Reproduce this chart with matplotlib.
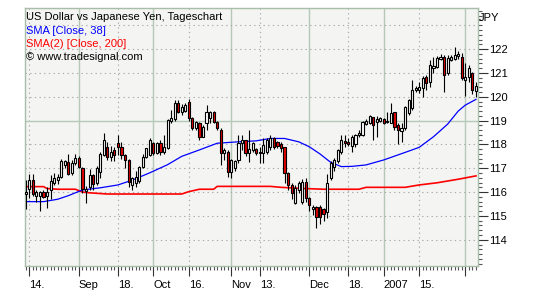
import numpy as np
import pandas as pd
import matplotlib
matplotlib.use('Agg')
import matplotlib.pyplot as plt
from matplotlib.ticker import FixedLocator, MultipleLocator

plt.rcParams['font.family'] = ['Liberation Sans', 'DejaVu Sans']

# Handelstage (Forex: alle Werktage)
dates = pd.bdate_range('2006-08-11', '2007-02-06')

# Kerzen USD/JPY
opens = [115.9, 116.15, 116.5, 115.85, 115.85, 116.0, 115.85, 116.1, 116.4, 116.5,
         116.65, 117.15, 117.25, 116.8, 117.2, 117.45, 117.0, 116.05, 116.2, 116.7,
         116.4, 116.85, 117.55, 117.9, 117.48, 117.75, 118.04, 117.9, 117.55, 117.34,
         116.3, 116.4, 116.45, 117.06, 117.48, 117.55, 118.04, 117.62, 118.04, 117.69,
         117.83, 119.0, 119.05, 119.75, 119.35, 119.4, 119.8, 119.1, 118.7, 118.9,
         118.32, 118.9, 119.1, 119.37, 118.95, 118.6, 117.62, 117.69, 116.85, 117.0,
         117.34, 118.04, 118.18, 117.62, 117.76, 117.8, 117.62, 117.62, 117.7, 117.9,
         118.25, 118.1, 118.0, 117.9, 116.79, 116.3, 115.55, 116.1, 115.6, 116.44,
         115.75, 115.28, 115.37, 115.37, 115.3, 115.16, 116.6, 117.05, 117.3, 117.7,
         118.15, 118.1, 117.95, 118.0, 118.4, 118.4, 118.85, 118.9, 119.15, 118.95,
         119.0, 119.05, 118.95, 118.9, 119.37, 118.8, 118.55, 118.7, 119.3, 119.51,
         120.28, 120.28, 120.35, 120.84, 120.63, 121.2, 121.26, 121.6, 121.68, 121.0,
         121.55, 121.6, 121.7, 121.68, 120.72, 120.82, 121.0, 120.25]
highs = [116.5, 116.75, 116.75, 116.1, 116.05, 116.1, 116.2, 116.7, 116.8, 116.75,
         117.4, 117.35, 117.6, 117.35, 117.6, 117.5, 117.05, 116.25, 116.95, 116.75,
         117.1, 117.7, 118.5, 118.1, 117.95, 117.9, 118.4, 118.1, 117.6, 117.4,
         116.65, 116.9, 117.1, 117.6, 117.85, 118.25, 118.1, 118.1, 118.2, 118.4,
         119.05, 119.44, 119.85, 119.85, 119.7, 119.75, 119.9, 119.15, 119.0, 118.95,
         118.8, 119.65, 119.4, 119.4, 119.0, 118.67, 117.83, 117.76, 117.4, 117.35,
         118.39, 118.39, 118.2, 118.6, 118.1, 117.85, 117.9, 118.25, 118.25, 118.39,
         118.3, 118.15, 118.1, 117.9, 116.86, 116.4, 116.3, 116.45, 116.55, 116.6,
         115.8, 115.45, 115.4, 115.45, 115.35, 116.75, 117.3, 117.45, 117.8, 118.4,
         118.4, 118.25, 118.4, 118.45, 118.6, 119.0, 119.05, 119.25, 119.15, 119.2,
         119.15, 119.1, 119.35, 119.75, 119.37, 118.88, 118.88, 119.6, 119.9, 120.7,
         120.45, 120.63, 120.85, 120.9, 121.54, 121.65, 121.7, 121.8, 121.75, 121.75,
         121.75, 122.1, 121.9, 121.85, 121.4, 121.35, 121.05, 120.6]
lows = [115.3, 115.75, 115.85, 115.6, 115.2, 115.75, 115.35, 115.7, 116.3, 116.35,
        116.6, 117.0, 116.7, 116.7, 117.15, 117.0, 115.95, 115.55, 116.1, 116.1,
        116.3, 116.6, 117.5, 117.35, 117.3, 117.3, 117.55, 117.4, 117.0, 116.2,
        116.1, 116.2, 116.4, 117.0, 117.45, 117.5, 117.55, 117.6, 117.55, 117.6,
        117.8, 118.9, 119.0, 119.3, 119.25, 119.35, 119.0, 118.6, 118.6, 118.2,
        118.3, 118.6, 118.9, 118.9, 118.6, 117.13, 117.34, 116.64, 116.6, 116.9,
        117.2, 117.76, 117.5, 117.25, 117.7, 117.55, 117.2, 117.2, 117.6, 117.76,
        117.8, 117.85, 117.7, 116.37, 116.1, 115.7, 115.5, 115.95, 115.5, 115.6,
        115.2, 115.05, 114.5, 114.65, 114.8, 114.9, 116.5, 116.9, 117.2, 117.6,
        117.9, 117.95, 117.7, 117.9, 118.3, 118.35, 118.8, 118.85, 118.2, 118.3,
        118.95, 118.85, 118.9, 118.9, 118.6, 118.0, 118.1, 118.6, 119.25, 119.44,
        120.2, 120.14, 120.0, 120.3, 120.4, 121.0, 121.2, 121.55, 120.2, 120.9,
        121.5, 121.55, 121.6, 120.7, 120.05, 120.6, 120.1, 120.0]
closes = [116.0, 116.5, 115.9, 116.0, 116.0, 115.8, 116.0, 116.45, 116.6, 116.65,
          117.3, 117.3, 116.75, 117.2, 117.45, 117.05, 116.15, 116.15, 116.7, 116.35,
          117.0, 117.6, 118.18, 117.48, 117.69, 117.55, 117.9, 117.55, 117.34, 116.43,
          116.6, 116.65, 117.06, 117.48, 117.83, 118.18, 117.62, 118.04, 117.69, 117.9,
          119.02, 119.09, 119.75, 119.35, 119.55, 119.65, 119.1, 118.7, 118.95, 118.32,
          118.74, 119.37, 119.37, 118.95, 118.67, 117.62, 117.76, 116.85, 117.34, 117.3,
          118.04, 118.18, 117.62, 117.8, 118.04, 117.62, 117.7, 117.97, 118.18, 118.25,
          117.9, 117.95, 117.85, 116.79, 116.3, 115.95, 116.16, 116.38, 116.44, 115.75,
          115.46, 115.39, 114.96, 114.96, 115.1, 116.38, 117.2, 117.35, 117.75, 118.2,
          118.05, 118.02, 118.3, 118.4, 118.5, 118.95, 119.0, 119.2, 118.8, 119.05,
          119.1, 118.9, 119.0, 119.3, 118.74, 118.6, 118.67, 119.55, 119.86, 120.28,
          120.35, 120.42, 120.8, 120.56, 121.33, 121.3, 121.61, 121.68, 120.91, 121.61,
          121.68, 121.75, 121.8, 120.78, 120.84, 121.2, 120.28, 120.45]

# gleitende Durchschnitte (Kerzenindex, Kurs)
sma38_bar = [0, 5, 9, 12, 16, 21, 26, 30, 35, 40, 44, 49, 54, 59, 65, 69, 73, 77, 80, 83,
             86, 89, 92, 96, 101, 105, 109, 111, 115, 119, 122, 124, 127]
sma38_val = [115.6, 115.6, 115.7, 115.85, 116.09, 116.18, 116.3, 116.5, 116.81, 117.15,
             117.5, 117.77, 118.05, 118.1, 118.15, 118.25, 118.25, 118.11, 117.9, 117.6,
             117.25, 117.07, 117.08, 117.14, 117.35, 117.56, 117.77, 117.88, 118.32, 118.85,
             119.4, 119.65, 119.89]
sma200_bar = [0, 5, 6, 9, 14, 16, 18, 23, 44, 46, 49, 53, 54, 69, 72, 77, 84, 94, 96, 107,
              111, 116, 122, 127]
sma200_val = [116.23, 116.23, 116.15, 116.12, 116.12, 116.0, 115.97, 115.92, 115.92, 116.02,
              116.12, 116.12, 116.24, 116.24, 116.2, 116.16, 116.12, 116.12, 116.2, 116.2,
              116.3, 116.39, 116.54, 116.68]

tick_dates = ['2006-08-14', '2006-09-01', '2006-09-18', '2006-10-02', '2006-10-16',
              '2006-11-01', '2006-11-13', '2006-12-01', '2006-12-18', '2007-01-01',
              '2007-01-15', '2007-02-01']
tick_labels = ['14.', 'Sep', '18.', 'Oct', '16.', 'Nov', '13.', 'Dec', '18.', '2007', '15.', '']
month_dates = ['2006-09-01', '2006-10-02', '2006-11-01', '2006-12-01', '2007-01-01', '2007-02-01']
mid_dates = ['2006-08-14', '2006-09-18', '2006-10-16', '2006-11-13', '2006-12-18', '2007-01-15']
y_labels = [114, 115, 116, 117, 118, 119, 120, 121, 122]

grid_solid = '#b6c9b6'
grid_dot = '#a9a9a9'

fig = plt.figure(figsize=(5.36, 2.99), dpi=100)
ax = fig.add_axes([24.7 / 536, 1 - 266 / 299, (478 - 24.7) / 536, (266 - 8.3) / 299])
ax.set_facecolor('#f4f4f3')

x = np.arange(len(dates))
pos = lambda d: dates.get_loc(pd.Timestamp(d))

# Raster
for d in month_dates:
    ax.axvline(pos(d), color=grid_solid, lw=1.0, zorder=1)
for d in mid_dates:
    ax.axvline(pos(d), color=grid_dot, lw=0.8, ls=(0, (1.2, 3)), zorder=1)
for v in range(114, 124):
    if v == 119:
        ax.axhline(v, color=grid_solid, lw=1.0, zorder=1)
    else:
        ax.axhline(v, color=grid_dot, lw=0.8, ls=(0, (1.2, 3)), zorder=1)

# Durchschnitte
ax.plot(sma200_bar, sma200_val, color='#ff0000', lw=1.2, zorder=2)
ax.plot(sma38_bar, sma38_val, color='#0000ff', lw=0.9, zorder=2)

# Kerzen
o = np.array(opens); c = np.array(closes)
ax.vlines(x, lows, highs, color='black', lw=0.8, zorder=3)
body_lo = np.minimum(o, c)
body_h = np.maximum(np.abs(c - o), 0.03)
fills = ['#e20000' if cc < oo else 'white' for oo, cc in zip(o, c)]
ax.bar(x, body_h, bottom=body_lo, width=0.6, color=fills, edgecolor='black',
       linewidth=0.8, zorder=4)

ax.set_xlim(-0.3, 127.57)
ax.set_ylim(112.9, 123.71)

# Achsen
for s in ax.spines.values():
    s.set_color('#a9bea9')
    s.set_linewidth(1.0)

ax.yaxis.tick_right()
ax.yaxis.set_major_locator(FixedLocator(y_labels))
ax.yaxis.set_minor_locator(MultipleLocator(0.2))
ax.tick_params(axis='y', which='major', length=7, width=0.8, color='#333333',
               labelsize=8, pad=1)
ax.tick_params(axis='y', which='minor', length=3, width=0.8, color='#555555')

ax.set_xticks([pos(d) for d in tick_dates])
ax.set_xticklabels(tick_labels, ha='left')
ax.xaxis.set_minor_locator(FixedLocator(x))
ax.tick_params(axis='x', which='major', length=7, width=0.8, color='#333333',
               labelsize=8, pad=3)
ax.tick_params(axis='x', which='minor', length=3, width=0.8, color='#555555')

# Texte
fx = 25.5 / 536
fig.text(fx, 1 - 20.5 / 299, 'US Dollar vs Japanese Yen, Tageschart', fontsize=8,
         color='black', va='baseline')
fig.text(fx, 1 - 33.8 / 299, 'SMA [Close, 38]', fontsize=8, color='#0000ff', va='baseline')
fig.text(fx, 1 - 47.1 / 299, 'SMA(2) [Close, 200]', fontsize=8, color='#ff0000', va='baseline')
fig.text(fx, 1 - 60.4 / 299, '\u00a9 www.tradesignal.com', fontsize=8, color='black',
         va='baseline')
fig.text(479 / 536, 1 - 21 / 299, 'JPY', fontsize=8, color='black', va='baseline')

fig.savefig('out.png', dpi=100, facecolor='white')
